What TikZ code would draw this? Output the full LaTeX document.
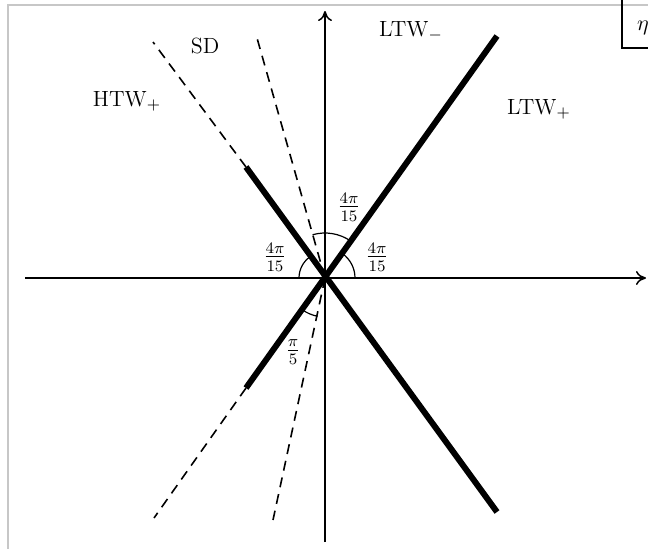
\documentclass[tikz,border=0pt]{standalone}
\usetikzlibrary{arrows.meta}
\begin{document}
\begin{tikzpicture}[x=0.5pt,y=-0.5pt,
  axis/.style={line width=0.75pt,-{To[length=5pt,width=7pt]}},
  thickline/.style={line width=3pt},
  dashline/.style={line width=0.8pt,dash pattern=on 5pt off 3.5pt},
  anglearc/.style={line width=0.6pt},
  lbl/.style={font=\fontsize{11}{13}\selectfont,inner sep=0pt},
  frac/.style={font=\fontsize{12}{14}\selectfont,inner sep=0pt}]
\useasboundingbox (0,0) rectangle (648,548);
\clip (0,0) rectangle (648,548);
% frame of the screenshot
\draw[line width=0.75pt,draw=black!22] (8,560) -- (8,5) -- (660,5);
% eta box
\draw[line width=0.85pt] (622,-10) -- (622,48) -- (660,48);
\node[lbl] (eta) at (643,28) {$\eta$};
% coordinates
\coordinate (O) at (325,278);
\coordinate (A1) at (497,36);
\coordinate (A2) at (246,388);
\coordinate (B1) at (246,167);
\coordinate (B2) at (497,512);
\coordinate (H1) at (153,42);
\coordinate (H2) at (154,518);
\coordinate (S1) at (257,38);
\coordinate (S2) at (273,520);
\coordinate (XL) at (25,278);
\coordinate (XR) at (646,278);
\coordinate (YB) at (325,542);
\coordinate (YT) at (325,11);
% axes
\draw[axis] (XL) -- (XR);
\draw[axis] (YB) -- (YT);
% dashed lines
\draw[dashline] (B1) -- (H1);
\draw[dashline] (A2) -- (H2);
\draw[dashline] (O) -- (S1);
\draw[dashline] (O) -- (S2);
% thick lines
\draw[thickline] (A2) -- (A1);
\draw[thickline] (B1) -- (B2);
% angle arcs
\draw[anglearc] (O) ++(0:30) arc[start angle=0,end angle=-54.7,radius=30];
\draw[anglearc] (O) ++(-125.8:26) arc[start angle=-125.8,end angle=-180,radius=26];
\draw[anglearc] (O) ++(-54.7:45) arc[start angle=-54.7,end angle=-106,radius=45];
\draw[anglearc] (O) ++(101:39) arc[start angle=101,end angle=125.8,radius=39];
% angle labels
\node[frac] (a1) at (349,207) {$\frac{4\pi}{15}$};
\node[frac] (a2) at (275,257) {$\frac{4\pi}{15}$};
\node[frac] (a3) at (377,257) {$\frac{4\pi}{15}$};
\node[frac] (a4) at (293,352) {$\frac{\pi}{5}$};
% region labels
\node[lbl] (sd) at (205,46) {SD};
\node[lbl] (htw) at (127,101) {HTW$_+$};
\node[lbl] (ltwm) at (411,31) {LTW$_-$};
\node[lbl] (ltwp) at (539,109) {LTW$_+$};
\end{tikzpicture}
\end{document}
